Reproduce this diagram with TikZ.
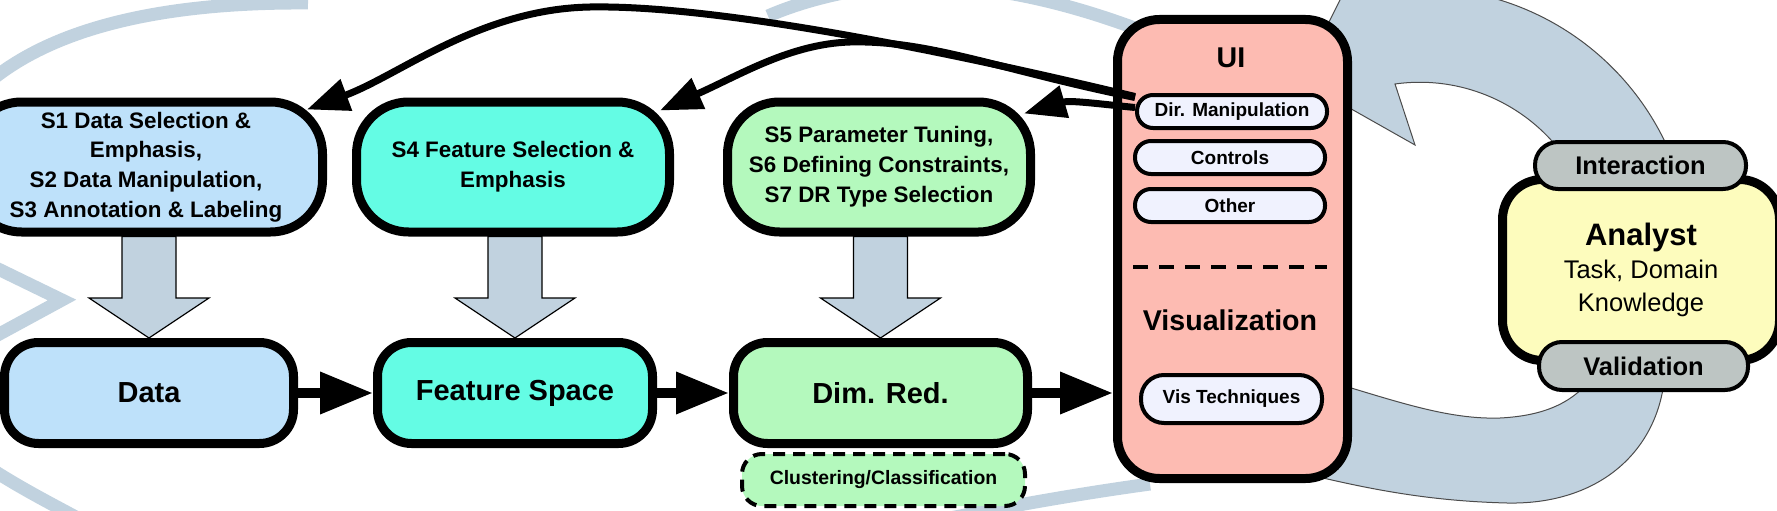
\documentclass[tikz,border=0pt]{standalone}
\usepackage{fontspec}
\setmainfont{Liberation Sans}
\usepackage{tikz}
\usetikzlibrary{arrows.meta, calc, positioning}

\definecolor{bandgray}{HTML}{C1D2DF}
\definecolor{datablue}{HTML}{BEE1FA}
\definecolor{featcyan}{HTML}{64FCE4}
\definecolor{drgreen}{HTML}{B4F9BD}
\definecolor{uisalmon}{HTML}{FDBBB2}
\definecolor{pillwhite}{HTML}{F0F2FE}
\definecolor{analystyellow}{HTML}{FDFCBD}
\definecolor{pillgray}{HTML}{BDC5C3}

\begin{document}
\begin{tikzpicture}[x=1pt, y=-1pt,
  stepbox/.style={draw, line width=9pt, rounded corners=52pt, align=center, inner sep=0pt,
    minimum height=130pt, font=\fontsize{22.4}{29.8}\selectfont\bfseries},
  stagebox/.style={draw, line width=9pt, rounded corners=34pt, inner sep=0pt,
    minimum height=101pt, font=\fontsize{29}{34}\selectfont\bfseries},
  pill/.style={draw, line width=4pt, fill=pillwhite, rounded corners=16pt, inner sep=0pt,
    minimum width=190pt, minimum height=33pt, font=\fontsize{19}{22}\selectfont\bfseries},
  rolepill/.style={draw, line width=4pt, fill=pillgray, rounded corners=23pt, inner sep=0pt,
    minimum width=211pt, minimum height=47pt, font=\fontsize{25.5}{30}\selectfont\bfseries},
  flow/.style={line width=10pt, -{Triangle[length=53pt, width=40pt]}},
  feedback/.style={line width=7pt, -{Triangle[length=42pt, width=32pt]}},
  blockarrow/.style={fill=bandgray, draw=black, line width=1.2pt, line join=miter},
  loopband/.style={draw=bandgray, line width=13pt},
  bigarrow/.style={fill=bandgray, draw=black!70, line width=1pt},
]

\def \ytop{167}
\def \ybot{393}

\useasboundingbox (0,0) rectangle (1777,511);
\clip (0,0) rectangle (1777,511);

% background loop
\draw[loopband] (308,3) .. controls (170,2) and (40,25) .. (-30,100);
\draw[loopband, line join=miter] (-8,266) -- (62,300) -- (-8,338);
\draw[loopband] (-15,465) .. controls (20,488) and (50,503) .. (85,522);
\draw[loopband] (930,522) .. controls (1000,508) and (1070,495) .. (1150,484);
\draw[loopband] (768,16) .. controls (800,2) and (850,-12) .. (900,-14) .. controls (980,-18) and (1060,0) .. (1140,30);

% analyst loop
\draw[bigarrow] (1420,260) ++(-25:272) arc[start angle=-25, end angle=-98, radius=272]
  -- (1375,-70) -- (1300,80) -- (1415,145) -- (1395,84)
  arc[start angle=-98, end angle=-25, radius=178] -- cycle;
\draw[bigarrow] (1290,370) .. controls (1380,395) and (1440,420) .. (1500,418)
  .. controls (1540,416) and (1570,405) .. (1590,380) -- (1665,372)
  .. controls (1660,450) and (1600,505) .. (1507,503)
  .. controls (1430,501) and (1370,490) .. (1290,470) -- cycle;

% steps
\node[stepbox, fill=datablue, minimum width=353pt] (s1) at (146,\ytop)
  {S1 Data Selection \&\\Emphasis,\\S2 Data Manipulation,\\S3 Annotation \& Labeling};
\node[stepbox, fill=featcyan, minimum width=313pt] (s4) at (513,\ytop)
  {S4 Feature Selection \&\\Emphasis};
\node[stepbox, fill=drgreen, minimum width=303pt] (s5) at (879,\ytop)
  {S5 Parameter Tuning,\\S6 Defining Constraints,\\S7 DR Type Selection};

% pipeline
\node[stagebox, fill=datablue, minimum width=289pt] (data) at (149,\ybot) {Data};
\node[stagebox, fill=featcyan, minimum width=275pt] (feat) at (515,\ybot) {Feature Space};
\node[stagebox, fill=drgreen, minimum width=294pt] (dimred) at (880.5,\ybot) {Dim. Red.};
\node[draw, line width=4pt, dash pattern=on 12pt off 8pt, rounded corners=20pt, fill=drgreen,
  minimum width=283pt, minimum height=52pt, inner sep=0pt,
  font=\fontsize{19.4}{22}\selectfont\bfseries] (clust) at (883.5,480) {Clustering/Classification};

% ui
\node[draw, line width=9pt, fill=uisalmon, rounded corners=42pt, minimum width=230pt,
  minimum height=459pt] (ui) at (1232.5,249) {};
\node[anchor=base, font=\fontsize{28.6}{34}\selectfont\bfseries] (uilabel) at (1231,67) {UI};
\node[anchor=base, font=\fontsize{28.6}{34}\selectfont\bfseries] (vislabel) at (1230,330) {Visualization};
\node[pill] (dm) at (1232,111.5) {Dir. Manipulation};
\node[pill, below=9pt of dm, xshift=-2pt] (ctl) {Controls};
\node[pill, below=11pt of ctl] (oth) {Other};
\draw[line width=4pt, dash pattern=on 15pt off 11pt] ([yshift=-61.5pt]oth.west) -- ([yshift=-61.5pt]oth.east);
\node[pill, minimum width=181pt, minimum height=48pt, rounded corners=23pt] (vt) at (1231.5,399) {Vis Techniques};

% analyst
\node[draw, line width=9pt, fill=analystyellow, rounded corners=40pt, minimum width=277pt,
  minimum height=181pt, align=center, font=\fontsize{25.5}{33}\selectfont] (analyst) at (1641,270)
  {{\fontsize{31}{33}\selectfont\bfseries Analyst}\\Task, Domain\\Knowledge};
\node[rolepill] (inter) at (1640.5,165.5) {Interaction};
\node[rolepill, minimum width=209pt, minimum height=48pt] (valid) at (1643.5,366) {Validation};

% gray step arrows
\foreach \src/\dst in {s1/data, s4/feat, s5/dimred} {
  \draw[blockarrow] ($(\dst.north |- \src.south)+(-27,0)$) -- ($(\dst.north)+(-27,-40)$)
    -- ($(\dst.north)+(-60,-40)$) -- (\dst.north) -- ($(\dst.north)+(60,-40)$)
    -- ($(\dst.north)+(27,-40)$) -- ($(\dst.north |- \src.south)+(27,0)$) -- cycle;
}

\draw[flow] (data) -- (feat);
\draw[flow] (feat) -- (dimred);
\draw[flow] (dimred.east) -- (dimred.east -| ui.west);

% direct manipulation feedback
\draw[feedback] ([yshift=15pt]dm.west) .. controls (900,40) and (700,5) .. (590,7)
  .. controls (480,9) and (400,75) .. ([xshift=-20pt,yshift=-12pt]s1.north east);
\draw[feedback] ([yshift=14pt]dm.west) .. controls (1000,70) and (930,40) .. (850,42)
  .. controls (790,44) and (740,75) .. ([xshift=-14pt,yshift=-13pt]s4.north east);
\draw[feedback] ([yshift=4pt]dm.west) .. controls (1100,104) and (1070,100)
  .. ([xshift=-11pt,yshift=-16pt]s5.north east);

\end{tikzpicture}
\end{document}
